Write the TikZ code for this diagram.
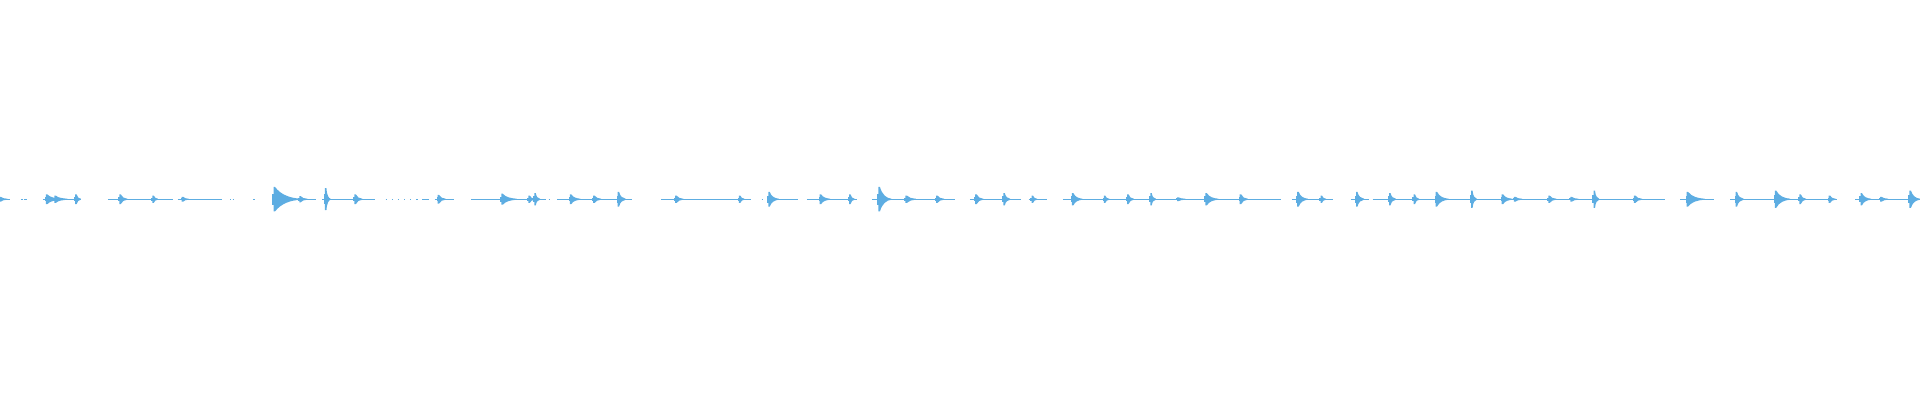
\documentclass[tikz,border=0pt]{standalone}
\definecolor{wave}{HTML}{5DADE2}
\tikzset{seg/.style={draw=wave,line width=0.7pt},burstfill/.style={fill=wave,draw=none}}
\newcommand{\wburst}[3]{% x, height, length
  \fill[burstfill] (#1-0.6,164) -- (#1-0.6,164+#2) -- (#1+0.6,164+#2)
    .. controls (#1+0.25*#3,164+0.35*#2) and (#1+0.6*#3,164+0.8) .. (#1+#3,164+0.4)
    -- (#1+#3,164-0.4)
    .. controls (#1+0.6*#3,164-0.8) and (#1+0.25*#3,164-0.35*#2) .. (#1+0.6,164-#2)
    -- (#1-0.6,164-#2) -- cycle;
  \fill[burstfill] (#1-1.5,164-0.45*#2) rectangle (#1,164+0.45*#2);}
\begin{document}
\begin{tikzpicture}[x=0.6122pt,y=0.6122pt]
\useasboundingbox (0,0) rectangle (1568,326.7);
\foreach \a/\b in {0/8,17/19,20/22,35/66,88/141,145/181,188/189,190/191,207/208,222/258,263/306,315/316,320/321,325/326,330/331,335/336,340/341,345/350,355/371,385/446,448/449,455/516,540/613,622/623,627/652,659/700,712/780,792/834,840/855,868/1046,1055/1089,1103/1118,1121/1360,1372/1400,1413/1500,1515/1568}
  \draw[seg] (\a,164) -- (\b,164);
\foreach \x/\h/\l in {0/2/6,38/4/12,45/3/10,62/4/4,98/4/6,125/3/4,149/2/5,224/10/22,245/2.5/6,266/9/4,290/4/6,358/3.5/6,410/4.5/12,432/3/5,437/5/4,466/4/8,485/3/6,505/6/6,552/3/6,604/3/4,628/6/8,670/4/8,694/4/4,718/10/10,740/3/8,765/3/6,797/4/6,820/5/5,843/3/4,876/5/8,902/3/4,921/4/5,940/5/4,962/1.5/6,985/5/10,1013/4/6,1060/6/8,1079/3/4,1108/6/6,1135/5/5,1155/4/4,1173/6/10,1202/7/4,1227/4/8,1237/2/6,1265/3/6,1283/2/6,1302/7/4,1335/3/6,1378/6/14,1418/6/6,1450/7/12,1470/4/5,1494/3/5,1520/5/8,1536/2/6,1560/7/8}
  \wburst{\x}{\h}{\l};
\end{tikzpicture}
\end{document}
